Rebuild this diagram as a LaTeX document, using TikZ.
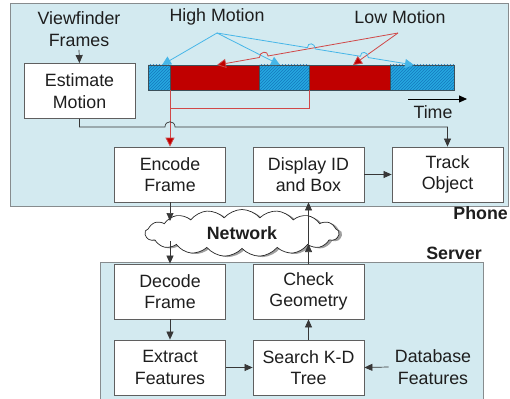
\documentclass[tikz,border=0pt]{standalone}
\usepackage{fontspec}
\setmainfont{Liberation Sans}
\usetikzlibrary{arrows.meta,shapes.symbols,shadows,patterns,calc}
\definecolor{panelfill}{RGB}{211,234,240}
\definecolor{panelline}{RGB}{135,140,142}
\definecolor{boxline}{RGB}{95,95,95}
\definecolor{txt}{RGB}{30,30,30}
\definecolor{segblue}{RGB}{38,168,224}
\definecolor{seghatch}{RGB}{20,120,190}
\definecolor{segred}{RGB}{192,0,0}
\definecolor{bardark}{RGB}{60,80,90}
\definecolor{callblue}{RGB}{70,182,232}
\definecolor{callred}{RGB}{208,72,72}
\definecolor{wirecol}{RGB}{55,55,55}
\begin{document}
\begin{tikzpicture}[x=1pt,y=-1pt,
  every node/.style={font=\fontsize{17.8}{21.5}\selectfont, text=txt},
  boldlabel/.style={font=\fontsize{17.8}{21.5}\selectfont\bfseries},
  block/.style={draw=boxline, line width=0.8pt, fill=white, minimum width=111pt,
    minimum height=55pt, align=center, inner sep=0pt},
  panel/.style={draw=panelline, line width=1pt, fill=panelfill},
  wire/.style={draw=wirecol, line width=0.7pt},
  tip/.style={-{Triangle[length=8pt,width=7pt]}},
  bluecall/.style={draw=callblue, line width=0.8pt, -{Triangle[length=9pt,width=9pt]}},
  redcall/.style={draw=callred, line width=0.8pt, -{Triangle[length=9pt,width=9pt,fill=segred]}},
  redwire/.style={draw=callred, line width=0.8pt},
]
\useasboundingbox (0,0) rectangle (510,398);

% panels
\path[panel] (10,4) rectangle (508,206);
\path[panel] (100,262) rectangle (483,400);
\node[boldlabel, anchor=east, inner sep=0pt] (phone) at (508,213) {Phone};
\node[boldlabel, inner sep=0pt] (server) at (454,253) {Server};

% phone side
\node[align=center] (vf) at (79,29) {Viewfinder\\Frames};
\node[block] (est) at (79.5,91) {Estimate\\Motion};
\node[block] (enc) at (170,174.5) {Encode\\Frame};
\node[block] (disp) at (308.5,174.5) {Display ID\\and Box};
\node[block] (trk) at (447.5,174.5) {Track\\Object};

% server side
\node[block] (dec) at (170,291.5) {Decode\\Frame};
\node[block] (chk) at (308.5,291.5) {Check\\Geometry};
\node[block] (ext) at (170,367.5) {Extract\\Features};
\node[block] (srch) at (308.5,367.5) {Search K-D\\Tree};
\node[align=center, inner sep=6pt] (db) at (433,367) {Database\\Features};

% motion timeline bar
\fill[segblue] (148,65) rectangle (170,90);
\fill[pattern=north east lines, pattern color=seghatch] (148,65) rectangle (170,90);
\fill[segred] (170,65) rectangle (259,90);
\fill[segblue] (259,65) rectangle (309,90);
\fill[pattern=north east lines, pattern color=seghatch] (259,65) rectangle (309,90);
\fill[segred] (309,65) rectangle (390,90);
\fill[segblue] (390,65) rectangle (454,90);
\fill[pattern=north east lines, pattern color=seghatch] (390,65) rectangle (454,90);
\draw[bardark, line width=0.8pt] (148,65) rectangle (454,90);
\foreach \xb in {170,259,309,390} \draw[bardark, line width=0.8pt] (\xb,65) -- (\xb,90);

% time axis
\coordinate (t0) at (408,99);
\coordinate (t1) at (467,99);
\draw[black, line width=0.8pt, tip] (t0) -- (t1);
\node (time) at (433,112) {Time};

% motion labels and callouts
\node (high) at (217,17) {High Motion};
\node (low) at (400,17) {Low Motion};
\coordinate (hs) at (217,33);
\coordinate (ls) at (398,33);
\coordinate (b1) at (162,65);
\coordinate (b2) at (280,65);
\coordinate (b3) at (414,65);
\coordinate (r1) at (217,65);
\coordinate (r2) at (353,65);
\draw[bluecall] (hs) -- (b1);
\draw[bluecall] (hs) -- (b2);
\draw[redcall] (ls) -- ($(ls)!0.718!(r1)$)
  .. controls +(0,-6) and +(0,-6) .. ($(ls)!0.766!(r1)$) -- (r1);
\draw[redcall] (ls) -- (r2);
\draw[bluecall] (hs) -- ($(hs)!0.459!(b3)$)
  .. controls +(0,-6) and +(0,-6) .. ($(hs)!0.499!(b3)$)
  -- ($(hs)!0.728!(b3)$)
  .. controls +(0,-6) and +(0,-6) .. ($(hs)!0.768!(b3)$) -- (b3);

% high-motion frames go to the encoder
\coordinate (seg1) at (170,90);
\coordinate (seg2) at (309,90);
\draw[redwire] (seg2) -- (309,108) -- (170,108);
\draw[redwire, -{Triangle[length=9pt,width=9pt,fill=segred]}] (seg1) -- (enc.north);

% phone wiring
\draw[wire, tip] (vf.south) -- (est.north);
\draw[wire, tip] (est.south) -- (79.5,127) -- (165,127)
  .. controls +(0,-7) and +(0,-7) .. (175,127) -- (447.5,127) -- (trk.north);
\draw[wire, tip] (disp.east) -- (trk.west);

% network cloud
\node[cloud, cloud puffs=17, cloud puff arc=100, aspect=4.2, draw=black!85,
  fill=white, line width=0.7pt, minimum width=194pt, minimum height=47pt,
  inner sep=0pt, boldlabel,
  drop shadow={shadow xshift=3pt, shadow yshift=-1pt, opacity=0.75}]
  (net) at (242,233) {Network};

\coordinate (netinL) at (170,221);
\coordinate (netoutL) at (170,241);
\coordinate (netR) at (308.5,244);
\draw[wire, tip] (enc.south) -- (netinL);
\draw[wire, tip] (netoutL) -- (dec.north);
\draw[wire, tip] (chk.north) -- (netR);
\draw[wire, tip] (netR) -- (disp.south);

% server wiring
\draw[wire, tip] (dec.south) -- (ext.north);
\draw[wire, tip] (ext.east) -- (srch.west);
\draw[wire, tip] (srch.north) -- (chk.south);
\draw[wire, tip] (db.west) -- (srch.east);
\end{tikzpicture}
\end{document}
